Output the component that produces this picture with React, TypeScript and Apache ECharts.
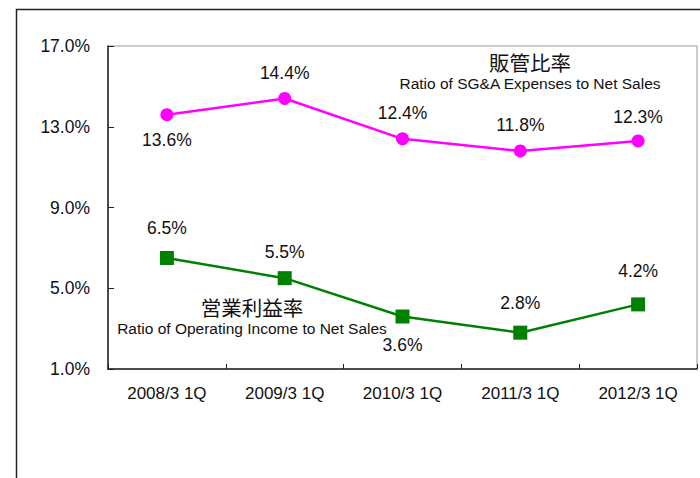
import React, { useEffect, useRef } from "react";
import * as echarts from "echarts";

const categories = ["2008/3 1Q", "2009/3 1Q", "2010/3 1Q", "2011/3 1Q", "2012/3 1Q"];
const sgaRatio = [13.6, 14.4, 12.4, 11.8, 12.3];
const opRatio = [6.5, 5.5, 3.6, 2.8, 4.2];
const yTicks = [1, 5, 9, 13, 17];

const sgaLabelPos = [
  { position: "bottom", distance: 10 },
  { position: "top", distance: 10 },
  { position: "top", distance: 10 },
  { position: "top", distance: 10 },
  { position: "top", distance: 8 },
];
const opLabelPos = [
  { position: "top", distance: 14 },
  { position: "top", distance: 10 },
  { position: "bottom", distance: 12 },
  { position: "top", distance: 14 },
  { position: "top", distance: 17 },
];

const NUM_FONT = "'Liberation Sans', Arial, sans-serif";

export default function App() {
  const ref = useRef<HTMLDivElement>(null);
  useEffect(() => {
    if (!ref.current) return;
    const chart = echarts.init(ref.current, undefined, { renderer: "svg" });
    const labelStyle = {
      show: true,
      color: "#111",
      fontFamily: NUM_FONT,
      fontSize: 17.5,
      formatter: (p: any) => p.value.toFixed(1) + "%",
    };
    chart.setOption({
      animation: false,
      backgroundColor: "#fff",
      grid: {
        left: 108,
        top: 46,
        right: 3,
        bottom: 109,
        show: true,
        borderColor: "#999",
        borderWidth: 1,
        backgroundColor: "transparent",
      },
      xAxis: {
        type: "category",
        data: categories,
        boundaryGap: true,
        axisLine: { lineStyle: { color: "#222", width: 1.5 } },
        axisTick: { show: true, inside: true, length: 5, lineStyle: { color: "#222" } },
        axisLabel: { color: "#111", fontFamily: NUM_FONT, fontSize: 17, margin: 16 },
        splitLine: { show: false },
      },
      yAxis: {
        type: "value",
        min: 1,
        max: 17,
        axisLine: { show: true, lineStyle: { color: "#222", width: 1.5 } },
        axisTick: { show: true, inside: true, length: 6, lineStyle: { color: "#222" }, customValues: yTicks },
        axisLabel: {
          color: "#111",
          fontFamily: NUM_FONT,
          fontSize: 17.5,
          margin: 18,
          customValues: yTicks,
          formatter: (v: number) => v.toFixed(1) + "%",
        },
        splitLine: { show: false },
      },
      series: [
        {
          name: "販管比率",
          type: "line",
          data: sgaRatio.map((v, i) => ({ value: v, label: sgaLabelPos[i] })),
          symbol: "circle",
          symbolSize: 13,
          lineStyle: { color: "#ff00ff", width: 2.5 },
          itemStyle: { color: "#ff00ff" },
          label: labelStyle,
        },
        {
          name: "営業利益率",
          type: "line",
          data: opRatio.map((v, i) => ({ value: v, label: opLabelPos[i] })),
          symbol: "rect",
          symbolSize: 14,
          lineStyle: { color: "#008000", width: 2.5 },
          itemStyle: { color: "#008000" },
          label: labelStyle,
        },
      ],
      graphic: [
        {
          type: "rect",
          shape: { x: 16.5, y: 9.5, width: 800, height: 600 },
          style: { fill: "none", stroke: "#222", lineWidth: 1.5 },
          silent: true,
        },
        {
          type: "text",
          x: 530,
          y: 62,
          style: {
            text: "販管比率",
            font: "20.5px 'Noto Sans CJK JP', sans-serif",
            fill: "#111",
            align: "center",
            verticalAlign: "middle",
          },
        },
        {
          type: "text",
          x: 530,
          y: 83,
          style: {
            text: "Ratio of SG&A Expenses to Net Sales",
            font: "15.5px 'Liberation Sans', sans-serif",
            fill: "#111",
            align: "center",
            verticalAlign: "middle",
          },
        },
        {
          type: "text",
          x: 252,
          y: 307,
          style: {
            text: "営業利益率",
            font: "20.5px 'Noto Sans CJK JP', sans-serif",
            fill: "#111",
            align: "center",
            verticalAlign: "middle",
          },
        },
        {
          type: "text",
          x: 252,
          y: 328,
          style: {
            text: "Ratio of Operating Income to Net Sales",
            font: "15.5px 'Liberation Sans', sans-serif",
            fill: "#111",
            align: "center",
            verticalAlign: "middle",
          },
        },
      ],
    });
    return () => chart.dispose();
  }, []);
  return (
    <div
      ref={ref}
      style={{ position: "absolute", left: 0, top: 0, width: 700, height: 478 }}
    />
  );
}
